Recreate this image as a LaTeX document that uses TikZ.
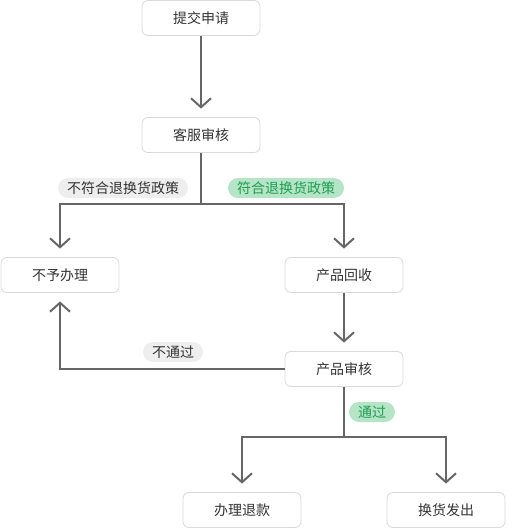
\documentclass[tikz,border=0pt]{standalone}
\usepackage{fontspec}
\setmainfont{Noto Sans CJK SC}
\usetikzlibrary{arrows.meta}
\definecolor{linegray}{HTML}{666666}
\definecolor{boxline}{HTML}{D9D9D9}
\definecolor{txtdark}{HTML}{333333}
\definecolor{pillgray}{HTML}{EEEEEE}
\definecolor{pillgreen}{HTML}{B5E4C7}
\definecolor{txtgreen}{HTML}{1E9E50}

\begin{document}
\begin{tikzpicture}[x=1pt, y=-1pt,
    box/.style={draw=boxline, line width=0.8pt, fill=white, rounded corners=6pt,
        minimum width=118pt, minimum height=35pt, text=txtdark,
        font=\fontsize{14}{16}\selectfont},
    flow/.style={draw=linegray, line width=2pt, shorten >=8.5pt,
        -{Straight Barb[length=9pt, width=20pt]}},
    conn/.style={draw=linegray, line width=2pt},
    pill/.style={rounded corners=10pt, minimum height=20pt, inner xsep=9pt,
        inner ysep=0pt, font=\fontsize{14}{16}\selectfont},
    nopill/.style={pill, fill=pillgray, text=txtdark},
    okpill/.style={pill, fill=pillgreen, text=txtgreen}]
    \useasboundingbox (0,0) rectangle (507,529);

    % 流程节点
    \node[box] (submit) at (201,18) {提交申请};
    \node[box] (cscheck) at (201,135) {客服审核};
    \node[box] (reject) at (60,275) {不予办理};
    \node[box] (recycle) at (344,275) {产品回收};
    \node[box] (review) at (344,369) {产品审核};
    \node[box] (refund) at (242,510) {办理退款};
    \node[box] (exchange) at (446,510) {换货发出};

    % 分叉点
    \coordinate (split1) at (201,204);
    \coordinate (split2) at (344,437);

    % 连线
    \draw[flow] (submit) -- (cscheck);
    \draw[conn] (cscheck) -- (split1);
    \draw[flow] (split1) -| (reject);
    \draw[flow] (split1) -| (recycle);
    \draw[flow] (recycle) -- (review);
    \draw[flow] (review) -| (reject);
    \draw[conn] (review) -- (split2);
    \draw[flow] (split2) -| (refund);
    \draw[flow] (split2) -| (exchange);

    % 条件标签
    \node[nopill] (lbno) at (123,188) {不符合退换货政策};
    \node[okpill] (lbyes) at (286,188) {符合退换货政策};
    \node[nopill] (lbfail) at (173,352) {不通过};
    \node[okpill] (lbpass) at (372,412) {通过};
\end{tikzpicture}
\end{document}
